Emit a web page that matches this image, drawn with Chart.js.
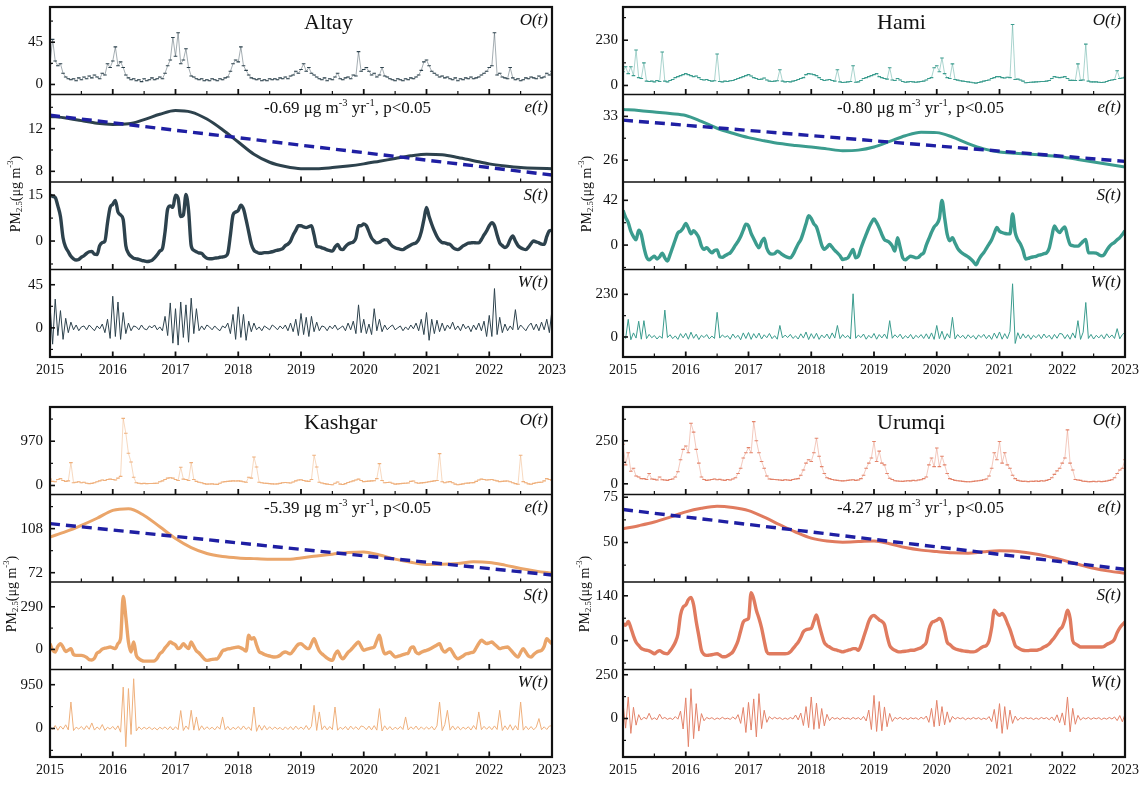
<!DOCTYPE html>
<html><head><meta charset="utf-8">
<script src="https://cdn.jsdelivr.net/npm/chart.js@4.4.1/dist/chart.umd.min.js"></script>
<style>
html,body{margin:0;padding:0;background:#fff;}
#wrap{position:relative;width:1146px;height:788px;overflow:hidden;background:#fff;}
canvas{position:absolute;}
</style></head><body>
<div id="wrap">
<canvas id="cAltay" width="573" height="400" style="left:0;top:0"></canvas>
<canvas id="cHami" width="573" height="400" style="left:573px;top:0"></canvas>
<canvas id="cKashgar" width="573" height="400" style="left:0;top:400px"></canvas>
<canvas id="cUrumqi" width="573" height="400" style="left:573px;top:400px"></canvas>
</div>
<script>
// ---------- time axis ----------
const startYear = 2015;
const perYear = 24;      // O, S, W sampled twice a month
const ePerYear = 4;      // e(t) sampled quarterly
const yearTicks = [2015, 2016, 2017, 2018, 2019, 2020, 2021, 2022, 2023];
const halfYearTicks = [2015.5, 2016.5, 2017.5, 2018.5, 2019.5, 2020.5, 2021.5, 2022.5];
const trendYears = [2015, 2023];

// ---------- Altay ----------
const altayO = [
22,48,25,20,22,12,8,6,5,6,4,7,5,8,6,9,7,10,8,6,12,10,22,18,
25,40,20,24,18,10,7,5,6,4,5,3,6,4,5,7,5,6,8,6,12,20,26,50,
30,55,22,26,38,18,9,8,6,5,6,4,5,4,6,5,4,6,5,7,8,14,22,26,
24,40,20,15,10,7,6,5,6,4,5,4,6,5,6,5,7,6,8,6,9,10,14,12,
16,22,14,18,12,10,8,6,5,7,4,6,5,8,12,6,5,7,8,6,10,9,35,14,
16,18,14,10,12,8,10,18,9,8,6,5,4,6,5,4,6,5,7,6,8,10,15,24,
26,20,14,12,10,8,9,7,8,6,5,7,4,6,5,7,6,8,6,7,8,10,12,14,
18,20,55,10,12,8,7,6,18,7,5,6,4,5,7,6,8,7,6,9,7,8,12,10,
14];
const altayE = [
13.15,13.0,12.75,12.5, 12.4,12.45,12.85,13.35, 13.7,13.55,12.9,11.9,
10.75,9.6,8.85,8.45, 8.25,8.25,8.35,8.5, 8.7,8.95,9.2,9.45,
9.6,9.55,9.3,9.0, 8.7,8.5,8.35,8.28, 8.25];
const altayTrend = [13.25, 7.65];
const altayS = [
15,14.6,14.2,11.5,8,1,-2,-3.5,-5,-5.8,-6.2,-6,-5.3,-4.8,-4,-3.5,-3.4,-4.3,-4.4,-1.5,-0.5,0,6,11,
12,13.3,9.5,8.5,7,-1.5,-4,-5,-5.6,-5.8,-6,-6.3,-6.5,-6.7,-6.6,-6.3,-5.5,-4.5,-3.3,-2.5,3,10.5,11.5,11,
15,14,8,8.5,15.2,10,-1.5,-3,-3.5,-3.9,-4,-5,-5.6,-5.8,-5.8,-5.6,-5.5,-5.3,-5.2,-5,-4,2,8.5,9.5,
10,11.7,10.5,7,3,-1,-3,-3.6,-4,-4,-3.8,-3.8,-3.7,-3.5,-3.2,-3,-2.8,-2.5,-1.5,-1,0,2,3.5,5,
5,4.6,4.4,4.7,5,2,-1.7,-1.9,-2.2,-2.5,-2.9,-3.1,-3.3,-2,-1.1,-2.5,-2.8,-1.8,-1,-0.6,-0.3,1,5,5,
5.6,5,3,1,0,-0.6,-0.4,0.2,0.5,0.4,-0.8,-1.7,-2.2,-2.5,-2.7,-2.8,-2.3,-1.8,-1.3,-0.9,-0.6,0.5,3,7,
11,8,5.5,3.3,1.5,0.2,-0.5,-0.6,-0.9,-1.1,-2,-2.6,-2.8,-2.3,-1.6,-1.1,-0.7,-0.6,-0.5,-0.6,-0.6,0.5,2,3.3,
5,6,5,2,-0.6,-1.5,-2.1,-1.5,0.5,1.7,0,-1.5,-2.2,-2.6,-2.8,-2,-0.8,0,-0.3,-0.6,-1,-1.1,1.5,3.3,
3.5];
const altayW = [
24,-17,30,-8,18,-12,10,-5,6,-2,3,-3,1,2,-2,3,0,-3,2,-1,4,-5,9,-11,
33,-9,27,-12,16,-6,5,-3,2,1,-2,3,-1,-2,2,0,3,-2,1,-3,12,-8,26,-16,
20,-18,27,-10,24,-15,31,-6,20,-3,2,-2,3,1,-2,2,-1,-3,2,0,5,-6,14,-12,
22,-10,14,-13,7,-4,5,-2,1,-3,2,0,-2,3,1,-2,2,-1,3,-3,5,-4,9,-8,
15,-7,11,-9,12,-4,6,-3,2,1,-3,2,-1,3,-2,0,2,-3,5,-2,7,-6,24,-5,
9,-6,4,-7,20,-3,9,-4,3,-2,1,3,-2,0,2,-3,1,-2,3,-1,5,-3,9,-7,
16,-13,9,-6,8,-4,5,-3,3,-1,6,-2,2,-3,4,-1,2,-4,3,-2,5,-3,7,-9,
13,-9,41,-7,11,-5,4,-3,2,-2,19,-2,3,0,-3,2,5,-2,4,-3,6,-2,9,-5,
19];
const altayTickO = [0, 45],   altayMinorO = [22.5, 67.5];
const altayTickE = [8, 12],   altayMinorE = [10, 14];
const altayTickS = [0, 15],   altayMinorS = [-7.5, 7.5];
const altayTickW = [0, 45],   altayMinorW = [-22.5, 22.5];

// ---------- Hami ----------
const hamiO = [
70,95,60,95,50,180,40,35,115,22,20,22,18,25,20,170,22,18,25,30,40,45,50,55,
60,55,50,45,48,40,30,28,30,25,22,24,160,20,18,22,20,24,25,30,35,40,45,50,
55,48,40,35,30,32,38,28,22,20,22,24,80,22,18,20,18,22,25,30,35,40,55,60,
58,55,50,40,30,25,28,30,25,22,80,18,15,16,18,20,100,16,18,25,35,40,45,50,
55,60,45,40,35,32,90,28,25,35,28,20,16,18,20,18,16,18,20,22,28,35,40,90,
100,70,140,60,40,35,110,30,27,24,22,20,18,16,14,12,15,18,22,25,28,35,40,45,
45,40,38,42,40,310,30,32,28,22,14,15,16,17,18,19,20,20,22,25,35,45,42,40,
42,45,35,26,26,25,110,26,28,210,22,18,18,18,16,15,16,20,25,28,30,75,35,38,
42];
const hamiE = [
34.1,33.95,33.7,33.45, 33.15,32.2,31.1,30.3, 29.6,29.1,28.65,28.35,
28.1,27.8,27.5,27.6, 28.1,29.0,29.9,30.45, 30.4,29.7,28.65,27.8,
27.3,27.1,26.95,26.75, 26.5,26.1,25.7,25.3, 24.9];
const hamiTrend = [32.4, 25.8];
const hamiS = [
32.5,26,21,13,8,5,14,10,-2,-11,-13.7,-12,-10.5,-13,-11,-7.5,-12,-15,-9,-2,5,11.5,13,16,
20.4,16,10.5,13.4,11,7,-1,-4,-2.5,-5,-7.3,-5,-4.5,-11,-11.5,-10,-8.5,-7.3,-4,0,3.5,8,14,19.5,
18,11,6,1,-2.5,3,6.5,-3,-7.5,-8.5,-8,-5.7,-7,-9,-10.5,-11.5,-12,-9,-4,1,5,12,20,27.5,
25,20,17,9,0,-4,-2,0.6,-2,-5,-7.3,-10,-13.5,-13,-12,-8,-4.1,-12,-10.5,-3,3.8,10,16,21,
24.5,21,16,10,5,3.8,2.2,-1,-5.7,7,-2,-12,-13.7,-12,-10.5,-11,-12,-11.5,-9,-7.3,0,6,12,17,
19.7,25,42,26,10,4,7,2,-3,-6,-8,-9.5,-11,-13,-15.5,-18.5,-14,-10,-7,-3,1,5,11,16.5,
13,11.8,11,10.5,10.5,29.3,12,5,1,-5,-13,-12.5,-11.5,-11,-10.5,-9.5,-9,-8,-7.3,-3,8,18,14,11.8,
15,17,8,0.6,-0.5,-1,-1,1,3.5,5.4,-7.3,-7.3,-7.3,-7.5,-9,-10,-9,-5,-1.5,1,2.5,5,7,10,
13.4];
const hamiW = [
10,-8,95,-15,22,-6,85,-12,88,-9,14,-4,8,-11,5,-7,145,-3,12,-9,6,-13,18,-5,
20,-12,26,-7,15,-14,9,-3,13,-10,5,-8,133,-6,11,-2,7,-12,16,-5,9,-15,22,-8,
24,-13,18,-6,21,-11,12,-4,19,-9,7,-12,62,-5,10,-3,14,-8,6,-11,17,-6,27,-14,
18,-8,20,-13,11,-5,16,-10,22,-6,62,-9,13,-4,8,-11,233,-7,10,-3,16,-12,9,-6,
19,-12,13,-5,16,-9,88,-7,12,-3,15,-10,7,-6,14,-11,9,-4,13,-8,17,-10,22,-13,
62,-9,31,-14,18,-6,106,-11,13,-4,9,-10,12,-5,8,-12,11,-3,14,-9,10,-13,21,-7,
27,-12,18,-9,30,287,-35,23,-11,17,-6,12,-13,9,-4,13,-9,16,-5,10,-12,14,-7,19,
16,-9,13,-12,22,-6,88,-13,26,186,-8,14,-11,9,-5,12,-10,17,-4,11,-8,45,-10,13,
25];
const hamiTickO = [0, 230],  hamiMinorO = [115, 345];
const hamiTickE = [26, 33],  hamiMinorE = [29.5];
const hamiTickS = [0, 42],   hamiMinorS = [-21, 21];
const hamiTickW = [0, 230],  hamiMinorW = [115];

// ---------- Kashgar ----------
const kashgarO = [
140,90,80,130,150,110,90,100,500,60,70,80,60,70,50,40,45,60,80,100,120,110,130,140,
130,120,160,200,1470,1146,705,514,180,60,50,40,45,40,42,44,45,50,80,100,130,160,170,160,
130,110,400,140,130,110,500,130,90,70,60,40,30,32,35,28,25,50,75,85,90,95,100,98,
100,95,80,70,180,160,624,404,70,60,50,45,40,35,32,35,45,60,66,60,55,75,100,120,
124,110,95,90,130,661,404,70,55,40,30,20,15,50,75,30,20,40,65,80,100,120,140,110,
85,90,95,100,105,150,478,110,60,65,70,50,30,35,40,45,50,55,90,98,60,50,56,62,
70,80,90,100,110,698,80,60,75,85,60,30,15,25,35,48,52,58,62,90,120,140,130,120,
125,130,115,100,85,90,95,98,80,60,40,28,661,85,60,35,28,45,60,68,72,100,150,130,
110];
const kashgarE = [
101.2,105.5,110.7,116.5, 122.9,124.3,118.8,109.5, 99.9,92.5,87.7,85.3,
84.1,83.5,83.0,82.9, 84.1,85.7,87.1,88.5, 89.0,86.5,83.1,80.5,
78.8,78.9,79.6,80.9, 80.4,78.2,75.5,73.3, 71.5];
const kashgarTrend = [112.1, 70.1];
const kashgarS = [
39,-5,-18,20,39,15,-15,-5,5,-35,-41,-41,-41,-45,-55,-70,-72,-60,-25,-15,2,8,12,16,
10,5,40,73,360,220,50,-18,50,-40,-64,-75,-80,-80,-80,-80,-78,-60,-30,-15,10,30,50,40,
30,5,15,39,20,5,50,20,-10,-25,-45,-65,-75,-72,-68,-66,-64,-40,-10,-3,3,5,10,14,
16,10,0,-11,96,70,80,30,-15,-25,-35,-41,-45,-50,-52,-50,-40,-25,-18,-25,-30,-10,15,35,
39,25,10,5,40,73,30,-11,-30,-45,-60,-70,-75,-35,-11,-45,-64,-45,-20,-5,15,35,50,20,
-7,0,5,10,16,60,96,20,-30,-25,-18,-35,-52,-48,-42,-36,-30,-25,10,16,-20,-30,-20,-12,
-7,0,10,20,30,39,0,-18,-5,5,-20,-50,-64,-55,-45,-32,-28,-22,-18,10,40,62,50,39,
45,50,35,20,5,10,14,16,0,-20,-40,-52,-20,5,-20,-45,-52,-35,-20,-12,-7,20,73,55,
39];
const kashgarW = [
40,-22,65,-38,52,-15,80,-30,574,-45,28,-12,44,-27,60,-18,120,-35,33,-20,85,-42,26,-14,
45,-28,58,-80,898,-397,866,-130,1079,-55,36,-22,28,-14,33,-26,18,-31,27,-12,35,-24,42,-33,
38,-25,389,-44,55,-20,395,-35,250,-42,58,-24,37,-16,28,-30,43,-15,250,-28,44,-34,27,-18,
42,-26,55,-20,33,-44,466,-62,78,-36,63,-27,38,-21,31,-15,24,-33,35,-22,41,-28,52,-17,
33,-21,64,-27,45,503,-42,359,-26,57,-29,43,-24,466,-38,27,-19,44,-32,52,-16,38,-27,55,
37,-26,52,-30,62,-36,431,-54,58,-25,42,-31,28,-17,43,-22,250,-33,37,-15,53,-28,36,-21,
32,-17,44,-33,57,574,-47,84,395,-36,55,-26,43,-29,27,-14,38,-34,63,-21,359,-27,47,-18,
43,-27,56,-22,395,-44,58,-26,83,-37,62,-33,574,-36,48,-25,42,-29,33,215,-27,37,-22,53,
60];
const kashgarTickO = [0, 970],  kashgarMinorO = [485, 1455];
const kashgarTickE = [72, 108], kashgarMinorE = [90, 126];
const kashgarTickS = [0, 290],  kashgarMinorS = [145];
const kashgarTickW = [0, 950],  kashgarMinorW = [-475, 475];

// ---------- Urumqi ----------
const urumqiO = [
230,110,180,73,90,45,40,30,30,25,60,28,26,22,40,24,22,20,25,28,40,70,140,200,
220,180,352,300,200,120,40,25,20,22,25,28,24,26,22,20,25,22,28,35,60,90,150,180,
210,180,361,250,180,130,90,45,28,26,25,24,22,20,24,22,20,25,28,30,50,80,120,140,
130,180,265,160,100,60,35,30,25,22,20,18,17,18,20,22,24,20,22,30,50,90,120,150,
246,130,190,120,110,60,32,25,18,16,15,14,16,18,17,20,18,22,24,30,40,110,150,100,
208,100,160,110,60,30,25,20,18,16,14,13,12,12,14,16,18,20,24,28,45,90,180,140,
246,120,180,110,90,50,30,20,16,14,15,13,15,14,16,14,18,16,20,25,35,55,75,90,
120,150,313,120,80,25,22,20,15,14,12,13,14,12,15,13,14,16,20,24,35,60,80,90,
140];
const urumqiE = [
57.6,59.3,61.3,64.0, 66.9,68.9,70.0,69.3, 67.6,64.0,59.8,55.8,
52.4,50.8,50.2,50.5, 50.9,49.3,47.2,45.8, 45.0,44.3,44.1,44.9,
45.4,45.2,44.1,42.5, 40.4,38.0,35.8,34.2, 33.0];
const urumqiTrend = [68.2, 35.2];
const urumqiS = [
53,48,60,40,15,-5,-15,-24,-28,-30,-32,-36,-41,-35,-31,-36,-40,-41,-32,-20,-5,20,80,105,
111,128,135,112,60,15,-30,-43,-46,-45,-44,-42,-41,-45,-50,-50,-47,-42,-35,-20,0,30,58,65,
69,150,130,95,70,40,0,-35,-41,-41,-41,-41,-41,-41,-41,-40,-35,-25,-15,-5,10,28,34,36,
38,60,80,50,20,-6,-15,-20,-25,-28,-30,-33,-35,-33,-30,-28,-25,-25,-30,-15,10,35,60,75,
79,72,65,60,50,15,-15,-25,-30,-34,-35,-34,-33,-32,-30,-30,-28,-25,-22,-15,-5,35,55,60,
64,69,60,30,-5,-12,-20,-25,-28,-30,-32,-33,-34,-35,-35,-33,-28,-22,-18,-15,0,40,95,85,
79,85,75,55,35,10,-15,-22,-27,-30,-31,-31,-30,-30,-30,-28,-25,-20,-16,-10,0,10,22,35,
43,65,95,70,0,-10,-15,-20,-20,-20,-20,-20,-20,-20,-20,-20,-18,-12,-8,-4,5,25,40,50,
58];
const urumqiW = [
90,-55,123,-85,64,-38,22,-9,7,-3,30,-6,4,-7,25,-2,6,-5,3,-6,11,-4,42,-60,
118,-161,170,-115,85,-72,28,-13,6,-2,5,-6,3,-4,7,-3,2,-5,9,-4,22,-28,63,-80,
92,-66,112,-105,142,-58,47,-22,11,-4,7,-2,5,-6,3,-5,6,-3,20,-8,31,-40,68,-52,
123,-62,88,-58,57,-42,24,-12,7,-3,4,-6,6,-2,3,-5,6,-3,5,-7,12,-14,48,-63,
132,-74,97,-70,66,-47,29,-17,6,-3,7,-5,3,-6,5,-2,4,-6,7,-3,14,-22,58,-47,
104,-43,68,-36,38,-22,12,-4,6,-2,5,-7,3,-4,6,-3,5,-6,2,-5,11,-18,52,-57,
85,-85,68,-62,48,-28,14,-11,5,-3,6,-2,4,-6,3,-5,6,-2,5,-7,9,-12,21,-24,
32,-38,123,-76,58,-33,18,-9,5,-3,6,-5,4,-2,5,-6,3,-4,6,-3,9,-12,17,-19,
25];
const urumqiTickO = [0, 250],  urumqiMinorO = [125, 375];
const urumqiTickE = [50, 75],  urumqiMinorE = [37.5, 62.5];
const urumqiTickS = [0, 140],  urumqiMinorS = [-70, 70];
const urumqiTickW = [0, 250],  urumqiMinorW = [-125, 125];

const rates = ['-0.69', '-0.80', '-5.39', '-4.27'];

// ---------- assembly ----------
const FONT = "'Liberation Serif', 'Times New Roman', serif";
Chart.defaults.font.family = FONT;
Chart.defaults.color = '#111';

const stations = [
  {canvas:'cAltay', name:'Altay', rate:rates[0], color:'#2d424d', thin:'#2d424d', faint:'rgba(45,66,77,0.55)', tickPad:7, titleX:16,
   O:altayO, E:altayE, T:altayTrend, S:altayS, W:altayW,
   range:{yO:[-10.7,82.5], yE:[7.0,15.2], yS:[-9.3,19.3], yW:[-30.4,60.9]},
   major:{yO:altayTickO, yE:altayTickE, yS:altayTickS, yW:altayTickW},
   minor:{yO:altayMinorO, yE:altayMinorE, yS:altayMinorS, yW:altayMinorW}},
  {canvas:'cHami', name:'Hami', rate:rates[1], color:'#3b9c8e', thin:'#3b9c8e', faint:'rgba(59,156,142,0.55)', tickPad:5, titleX:14,
   O:hamiO, E:hamiE, T:hamiTrend, S:hamiS, W:hamiW,
   range:{yO:[-46,399], yE:[22.5,36.5], yS:[-22.9,59.2], yW:[-108,364]},
   major:{yO:hamiTickO, yE:hamiTickE, yS:hamiTickS, yW:hamiTickW},
   minor:{yO:hamiMinorO, yE:hamiMinorE, yS:hamiMinorS, yW:hamiMinorW}},
  {canvas:'cKashgar', name:'Kashgar', rate:rates[2], color:'#eaa56a', thin:'#efb07c', faint:'rgba(236,168,110,0.55)', tickPad:7, titleX:12,
   O:kashgarO, E:kashgarE, T:kashgarTrend, S:kashgarS, W:kashgarW,
   range:{yO:[-198,1720], yE:[64.4,135.9], yS:[-137,459], yW:[-619,1280]},
   major:{yO:kashgarTickO, yE:kashgarTickE, yS:kashgarTickS, yW:kashgarTickW},
   minor:{yO:kashgarMinorO, yE:kashgarMinorE, yS:kashgarMinorS, yW:kashgarMinorW}},
  {canvas:'cUrumqi', name:'Urumqi', rate:rates[3], color:'#e07b5f', thin:'#e3836a', faint:'rgba(227,131,106,0.55)', tickPad:5, titleX:12,
   O:urumqiO, E:urumqiE, T:urumqiTrend, S:urumqiS, W:urumqiW,
   range:{yO:[-62,446], yE:[28.2,76.5], yS:[-90,183], yW:[-220,280]},
   major:{yO:urumqiTickO, yE:urumqiTickE, yS:urumqiTickS, yW:urumqiTickW},
   minor:{yO:urumqiMinorO, yE:urumqiMinorE, yS:urumqiMinorS, yW:urumqiMinorW}}
];

function pts(values, stepsPerYear) {
  return values.map((v, i) => ({x: startYear + i / stepsPerYear, y: v}));
}
function pairPts(xs, ys) { return xs.map((x, i) => ({x, y: ys[i]})); }

function richWidth(ctx, parts, size) {
  let w = 0;
  for (const p of parts) {
    const fs = p.s ? size * 0.62 : size;
    ctx.font = (p.i ? 'italic ' : '') + fs + 'px ' + FONT;
    w += ctx.measureText(p.t).width;
  }
  return w;
}
function drawRich(ctx, parts, x, y, size) {
  let cx = x;
  ctx.textAlign = 'left';
  ctx.textBaseline = 'middle';
  for (const p of parts) {
    const fs = p.s ? size * 0.62 : size;
    ctx.font = (p.i ? 'italic ' : '') + fs + 'px ' + FONT;
    const dy = p.s === 'sup' ? -size * 0.36 : (p.s === 'sub' ? size * 0.26 : 0);
    ctx.fillText(p.t, cx, y + dy);
    cx += ctx.measureText(p.t).width;
  }
}
function seg(ctx, x1, y1, x2, y2) { ctx.beginPath(); ctx.moveTo(x1, y1); ctx.lineTo(x2, y2); ctx.stroke(); }

const AX = ['yO', 'yE', 'yS', 'yW'];
const SUBLABEL = {yO:'O(t)', yE:'e(t)', yS:'S(t)', yW:'W(t)'};

const decor = {
  id: 'decor',
  beforeDatasetDraw(chart, args) {
    const ds = chart.data.datasets[args.index];
    const sc = chart.scales[ds.yAxisID];
    const a = chart.chartArea;
    const ctx = chart.ctx;
    ctx.save();
    ctx.beginPath();
    ctx.rect(a.left, sc.top, a.right - a.left, sc.bottom - sc.top);
    ctx.clip();
  },
  afterDatasetDraw(chart) { chart.ctx.restore(); },
  afterDraw(chart, args, o) {
    const ctx = chart.ctx, a = chart.chartArea, xs = chart.scales.x;
    ctx.save();
    ctx.strokeStyle = '#111';
    ctx.fillStyle = '#111';
    ctx.lineCap = 'butt';
    AX.forEach(id => {
      const sc = chart.scales[id];
      ctx.lineWidth = 1.6;
      sc.ticks.forEach(t => { const p = sc.getPixelForValue(t.value); seg(ctx, a.left, p, a.left + 5, p); });
      ctx.lineWidth = 1.2;
      o.minor[id].forEach(v => { const p = sc.getPixelForValue(v); seg(ctx, a.left, p, a.left + 3, p); });
      ctx.lineWidth = 1.8;
      yearTicks.slice(1, -1).forEach(v => { const p = xs.getPixelForValue(v); seg(ctx, p, sc.bottom, p, sc.bottom - 5.5); });
      ctx.lineWidth = 1.2;
      halfYearTicks.forEach(v => { const p = xs.getPixelForValue(v); seg(ctx, p, sc.bottom, p, sc.bottom - 3.5); });
    });
    ctx.lineWidth = 1.6;
    ['yO', 'yE', 'yS'].forEach(id => { const b = chart.scales[id].bottom; seg(ctx, a.left, b, a.right, b); });
    ctx.lineWidth = 2.2;
    ctx.strokeRect(a.left, a.top, a.right - a.left, a.bottom - a.top);

    // sub-plot labels
    ctx.textAlign = 'right';
    ctx.textBaseline = 'middle';
    ctx.font = 'italic 17px ' + FONT;
    AX.forEach(id => { ctx.fillText(SUBLABEL[id], a.right - 4, chart.scales[id].top + 13.5); });

    // station name
    ctx.textAlign = 'left';
    ctx.font = '22px ' + FONT;
    ctx.fillText(o.name, a.left + 254, chart.scales.yO.top + 16);

    // trend annotation
    drawRich(ctx, [
      {t: o.rate + ' \u03bcg m'}, {t: '-3', s: 'sup'}, {t: ' yr'}, {t: '-1', s: 'sup'}, {t: ', p<0.05'}
    ], a.left + 214, chart.scales.yE.top + 14.5, 17);

    // y title
    const tparts = [{t: 'PM'}, {t: '2.5', s: 'sub'}, {t: '(\u03bcg m'}, {t: '-3', s: 'sup'}, {t: ')'}];
    const tsize = 14;
    const tw = richWidth(ctx, tparts, tsize);
    ctx.save();
    ctx.translate(o.titleX, 194);
    ctx.rotate(-Math.PI / 2);
    drawRich(ctx, tparts, -tw / 2, 0, tsize);
    ctx.restore();
    ctx.restore();
  }
};

function yScale(st, id, weight) {
  return {
    type: 'linear', position: 'left', stack: 'panel', stackWeight: 1, weight: weight,
    min: st.range[id][0], max: st.range[id][1],
    grid: {display: false, drawTicks: false}, border: {display: false},
    ticks: {autoSkip: false, padding: st.tickPad, font: {size: 15, family: FONT}, color: '#111',
            callback: v => String(v)},
    afterBuildTicks: s => { s.ticks = st.major[id].map(v => ({value: v})); },
    afterFit: s => { s.width = 50; s.paddingTop = 0; s.paddingBottom = 0; }
  };
}

stations.forEach(st => {
  const ctx = document.getElementById(st.canvas).getContext('2d');
  new Chart(ctx, {
    type: 'line',
    data: {
      datasets: [
        {yAxisID: 'yE', data: pairPts(trendYears, st.T), borderColor: '#1f1fa3', borderWidth: 3.4,
         borderDash: [10, 6], pointRadius: 0, tension: 0},
        {yAxisID: 'yE', data: pts(st.E, ePerYear), borderColor: st.color, borderWidth: 3,
         pointRadius: 0, cubicInterpolationMode: 'monotone'},
        {yAxisID: 'yO', data: pts(st.O, perYear), borderColor: st.faint, borderWidth: 0.8,
         pointStyle: 'line', pointRadius: 1.8, pointBorderWidth: 1.1, pointBorderColor: st.thin, tension: 0},
        {yAxisID: 'yS', data: pts(st.S, perYear), borderColor: st.color, borderWidth: 3.4,
         pointRadius: 0, cubicInterpolationMode: 'monotone'},
        {yAxisID: 'yW', data: pts(st.W, perYear), borderColor: st.thin, borderWidth: 1,
         pointRadius: 0, tension: 0}
      ]
    },
    options: {
      responsive: false, animation: false, events: [],
      layout: {padding: {left: 0, right: 21, top: 7, bottom: 0}},
      plugins: {legend: {display: false}, tooltip: {enabled: false},
                decor: {name: st.name, rate: st.rate, minor: st.minor, titleX: st.titleX}},
      scales: {
        x: {type: 'linear', position: 'bottom', min: 2015, max: 2023,
            grid: {display: false, drawTicks: false}, border: {display: false},
            ticks: {autoSkip: false, maxRotation: 0, padding: 5, font: {size: 14, family: FONT}, color: '#111',
                    callback: v => String(v)},
            afterBuildTicks: s => { s.ticks = yearTicks.map(v => ({value: v})); },
            afterFit: s => { s.height = 43; s.paddingLeft = 0; s.paddingRight = 0; }},
        yO: yScale(st, 'yO', 4),
        yE: yScale(st, 'yE', 3),
        yS: yScale(st, 'yS', 2),
        yW: yScale(st, 'yW', 1)
      }
    },
    plugins: [decor]
  });
});
</script>
</body></html>
